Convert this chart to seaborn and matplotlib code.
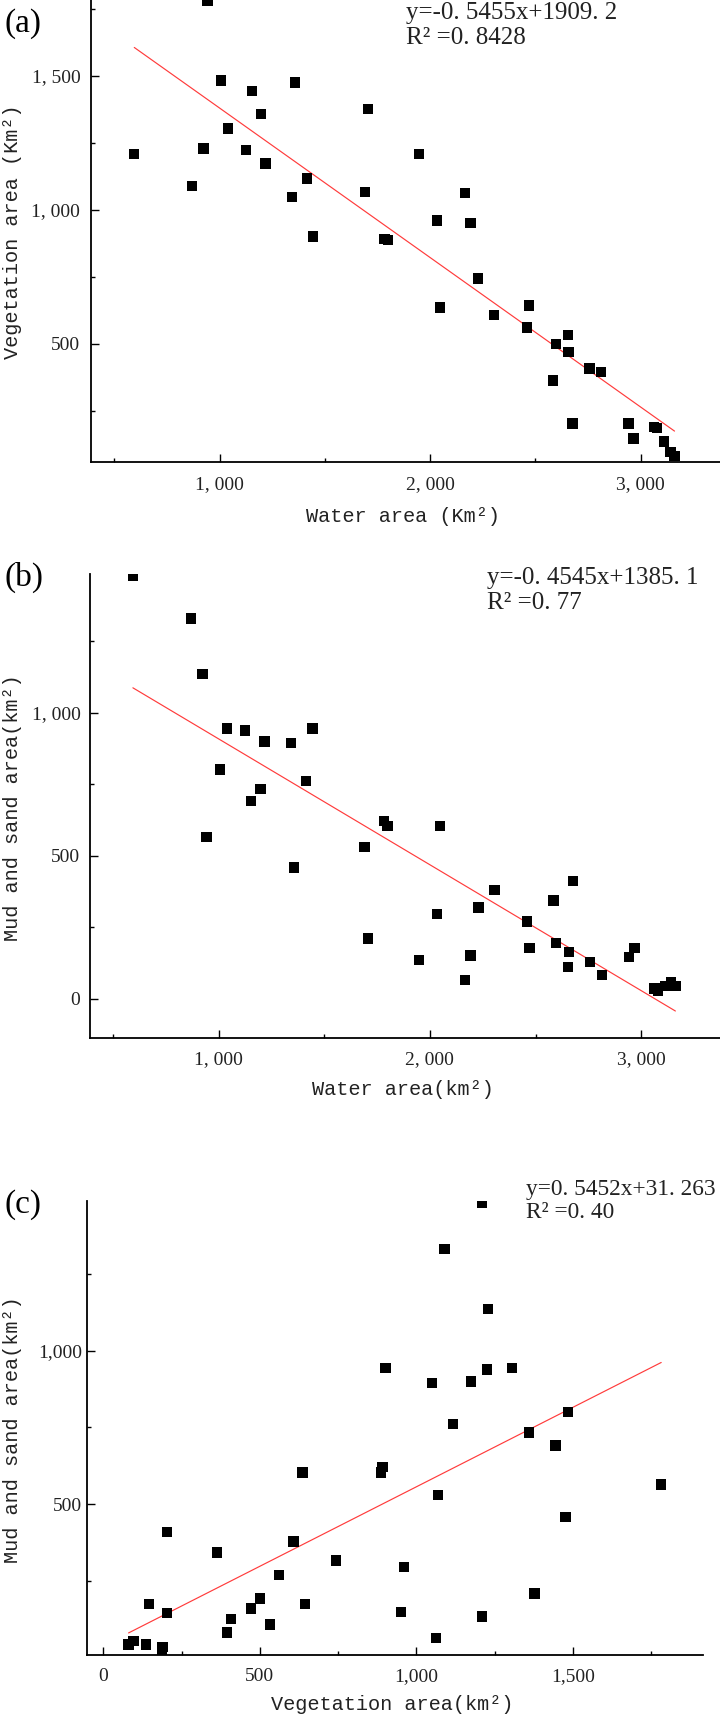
import matplotlib
matplotlib.use("Agg")
import matplotlib.pyplot as plt
from matplotlib.ticker import MultipleLocator, FuncFormatter
import seaborn as sns
import pandas as pd

# ---- data ----
water = [595, 869, 924, 943, 1007, 1041, 1126, 1155, 1198, 1218, 1344, 1357, 1414, 1444,
         1691, 1706, 1784, 1800, 1948, 2033, 2048, 2166, 2192, 2229, 2305, 2460, 2471,
         2584, 2597, 2654, 2658, 2677, 2758, 2813, 2943, 2967, 3063, 3078, 3111, 3141, 3161]
vegetation = [1209, 1089, 1229, 1781, 1483, 1304, 1225, 1444, 1359, 1173, 1049, 1476, 1117, 901,
              1068, 1376, 891, 887, 1209, 961, 636, 1063, 951, 744, 608, 561, 644,
              363, 500, 533, 471, 203, 408, 396, 203, 147, 189, 187, 136, 97, 81]
mud = [1479, 1330, 1135, 565, 801, 944, 938, 691, 734, 899, 894, 458, 761, 944,
       530, 210, 621, 604, 135, 296, 604, 65, 151, 318, 379, 270, 177,
       343, 194, 110, 162, 411, 128, 83, 146, 176, 36, 26, 45, 56, 45]

panel_labels = ["(a)", "(b)", "(c)"]
equations = [("y=-0. 5455x+1909. 2", "R\u00b2 =0. 8428"),
             ("y=-0. 4545x+1385. 1", "R\u00b2 =0. 77"),
             ("y=0. 5452x+31. 263", "R\u00b2 =0. 40")]
xlabels = ["Water area (Km\u00b2)", "Water area(km\u00b2)", "Vegetation area(km\u00b2)"]
ylabels = ["Vegetation area (Km\u00b2)", "Mud and sand area(km\u00b2)", "Mud and sand area(km\u00b2)"]

df = pd.DataFrame({"water": water, "vegetation": vegetation, "mud": mud})

sns.set_style("ticks")
plt.rcParams["font.family"] = ["Liberation Serif", "DejaVu Sans"]

W, H = 720, 1717
fig = plt.figure(figsize=(7.2, 17.17), dpi=100)


def fx(x):
    return x / W


def fy(y):
    return 1 - y / H


def box(l, t, r, b):
    return [fx(l), fy(b), fx(r) - fx(l), (b - t) / H]


axes_boxes = [box(90.9, 0.0, 720, 461.8), box(90.4, 574.0, 720, 1037.5), box(87.2, 1200.7, 703.5, 1654.5)]
pairs = [("water", "vegetation"), ("water", "mud"), ("vegetation", "mud")]
xlims = [(389, 3377), (394, 3372), (-51, 1916)]
ylims = [(60, 1784), (-136, 1485), (12, 1487)]
xmaj = [1000, 1000, 500]
xmin = [500, 500, 250]
ymaj = [500, 500, 500]
ymin = [250, 250, 250]
ypads = [7.6, 7.2, 3.4]

letter_pos = [(23, 24), (24, 577), (23.5, 1205)]
eq_pos = [(406, 13, 38), (487, 578, 603), (526, 1189, 1212)]
eq_size = [18, 18, 16.8]
xlabel_pos = [(403, 517), (403, 1089), (392, 1704)]
ylabel_pos = [(13, 232), (13, 808), (13, 1430)]


def fmt_gap(v, p):
    return f"{int(round(v)):,}".replace(",", ", ")


def fmt_plain(v, p):
    return f"{int(round(v)):,}"


for i, (xc, yc) in enumerate(pairs):
    ax = fig.add_axes(axes_boxes[i])
    sns.scatterplot(data=df, x=xc, y=yc, ax=ax, marker="s", s=56, color="black",
                    edgecolor="none", linewidth=0, zorder=3)
    sns.regplot(data=df, x=xc, y=yc, ax=ax, scatter=False, ci=None, truncate=True,
                line_kws={"color": "#ff3b3b", "lw": 0.85, "zorder": 2})
    ax.set_xlim(*xlims[i])
    ax.set_ylim(*ylims[i])
    ax.xaxis.set_major_locator(MultipleLocator(xmaj[i]))
    ax.xaxis.set_minor_locator(MultipleLocator(xmin[i]))
    ax.yaxis.set_major_locator(MultipleLocator(ymaj[i]))
    ax.yaxis.set_minor_locator(MultipleLocator(ymin[i]))
    f = fmt_gap if i < 2 else fmt_plain
    ax.xaxis.set_major_formatter(FuncFormatter(f))
    ax.yaxis.set_major_formatter(FuncFormatter(f))
    for s in ["top", "right"]:
        ax.spines[s].set_visible(False)
    for s in ["left", "bottom"]:
        ax.spines[s].set_linewidth(1.3)
        ax.spines[s].set_color("black")
    ax.tick_params(which="major", direction="in", length=5.8, width=1.0, colors="black",
                   labelsize=14, labelfontfamily="Liberation Serif", labelcolor="#222222")
    ax.tick_params(which="minor", direction="in", length=3.0, width=1.0, colors="black")
    ax.tick_params(axis="x", which="major", pad=10)
    ax.tick_params(axis="y", which="major", pad=ypads[i])
    ax.set_facecolor("none")

    ax.set_xlabel(xlabels[i], family="Liberation Mono", fontsize=14.6, color="#222222")
    ax.set_ylabel(ylabels[i], family="Liberation Mono", fontsize=14.6, color="#222222")
    ax.xaxis.set_label_coords(fx(xlabel_pos[i][0]), fy(xlabel_pos[i][1]), transform=fig.transFigure)
    ax.yaxis.set_label_coords(fx(ylabel_pos[i][0]), fy(ylabel_pos[i][1]), transform=fig.transFigure)
    ax.xaxis.label.set_va("center")
    ax.xaxis.label.set_ha("center")
    ax.yaxis.label.set_va("center")
    ax.yaxis.label.set_ha("center")

    lx, ly = letter_pos[i]
    fig.text(fx(lx), fy(ly), panel_labels[i], fontsize=24, family="Liberation Serif",
             ha="center", va="center", color="black")
    ex, ey1, ey2 = eq_pos[i]
    fig.text(fx(ex), fy(ey1), equations[i][0], fontsize=eq_size[i], family="Liberation Serif",
             ha="left", va="center", color="#222222")
    fig.text(fx(ex), fy(ey2), equations[i][1], fontsize=eq_size[i], family="Liberation Serif",
             ha="left", va="center", color="#222222")

fig.savefig("out.png", dpi=100, facecolor="white")
